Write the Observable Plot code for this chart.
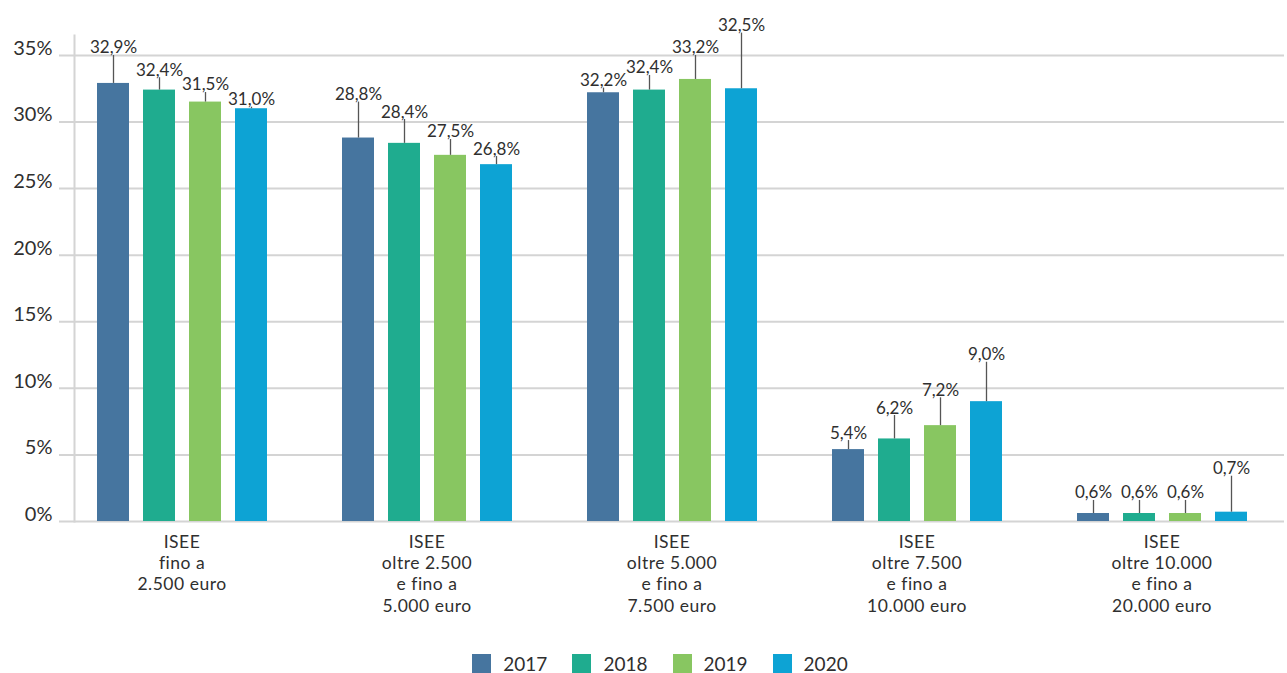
<!DOCTYPE html>
<html>
<head>
<meta charset="utf-8">
<script src="https://cdn.jsdelivr.net/npm/d3@7"></script>
<script src="https://cdn.jsdelivr.net/npm/@observablehq/plot@0.6"></script>
<style>
  html, body { margin: 0; padding: 0; background: #fff; }
  #legend { display: flex; justify-content: center; padding-left: 58px; padding-top: 3px; }
  .lg-swatches-wrap { min-height: 25px !important; }
  .lg-swatch { margin-right: 25px !important; }
  .lg-swatch > svg { margin-right: 12px !important; }
  .fxaxis text { letter-spacing: 0.5px; }
</style>
</head>
<body>
<div id="chart"></div>
<div id="legend"></div>
<script>
const groups = [
  "ISEE\nfino a\n2.500 euro",
  "ISEE\noltre 2.500\ne fino a\n5.000 euro",
  "ISEE\noltre 5.000\ne fino a\n7.500 euro",
  "ISEE\noltre 7.500\ne fino a\n10.000 euro",
  "ISEE\noltre 10.000\ne fino a\n20.000 euro"
];
const years = ["2017", "2018", "2019", "2020"];
const colors = ["#46759f", "#1fac8f", "#88c661", "#0da3d4"];

const v2017 = [32.9, 28.8, 32.2, 5.4, 0.6];
const v2018 = [32.4, 28.4, 32.4, 6.2, 0.6];
const v2019 = [31.5, 27.5, 33.2, 7.2, 0.6];
const v2020 = [31.0, 26.8, 32.5, 9.0, 0.7];

// level (in % units) where each value label's leader line ends
const l2017 = [35.0, 31.5, 32.55, 6.08, 1.58];
const l2018 = [33.33, 30.19, 33.5, 7.96, 1.58];
const l2019 = [32.22, 28.69, 35.0, 9.29, 1.58];
const l2020 = [31.12, 27.41, 36.68, 11.96, 3.4];

const yTicks = [0, 5, 10, 15, 20, 25, 30, 35];

const series = [v2017, v2018, v2019, v2020];
const levels = [l2017, l2018, l2019, l2020];
const rows = groups.flatMap((g, i) => years.map((y, j) => ({
  group: g, year: y, value: series[j][i], labelAt: levels[j][i]
})));
const fmt = v => v.toFixed(1).replace(".", ",") + "%";
const textColor = "#2f2f2f";
const gridColor = "#d4d4d4";

const chart = Plot.plot({
  width: 1287,
  height: 648,
  marginLeft: 57,
  marginRight: 1,
  marginTop: 35,
  marginBottom: 127,
  style: { fontFamily: "Lato, sans-serif", color: textColor, background: "white" },
  fx: { domain: groups, padding: 0, label: null },
  x: { domain: years, paddingInner: 0.312, paddingOuter: 0.797, axis: null },
  y: { domain: [0, 36.5], axis: null },
  color: { domain: years, range: colors },
  marks: [
    Plot.ruleY(yTicks, { stroke: gridColor, strokeWidth: 2 }),
    Plot.frame({ anchor: "left", facet: "super", dx: 15, stroke: gridColor, strokeWidth: 2 }),
    Plot.axisY({ ticks: yTicks, tickFormat: d => d + "%", tickSize: 0, tickPadding: 7, fontSize: 20, dy: -7, label: null, fill: textColor }),
    Plot.axisFx({ anchor: "bottom", tickSize: 0, tickPadding: 11, fontSize: 17.5, lineHeight: 1.22, label: null, fill: textColor, className: "fxaxis" }),
    Plot.barY(rows, { fx: "group", x: "year", y: "value", fill: "year" }),
    Plot.ruleX(rows, { fx: "group", x: "year", y1: "value", y2: "labelAt", stroke: "#555", strokeWidth: 1.3 }),
    Plot.text(rows, { fx: "group", x: "year", y: "labelAt", text: d => fmt(d.value), lineAnchor: "bottom", dy: -2, fontSize: 17, fill: textColor })
  ]
});
document.getElementById("chart").appendChild(chart);

const legend = Plot.legend({
  color: { type: "ordinal", domain: years, range: colors },
  legend: "swatches",
  swatchSize: 19,
  className: "lg",
  style: { fontFamily: "Lato, sans-serif", fontSize: "19px", color: textColor }
});
document.getElementById("legend").appendChild(legend);
</script>
</body>
</html>
